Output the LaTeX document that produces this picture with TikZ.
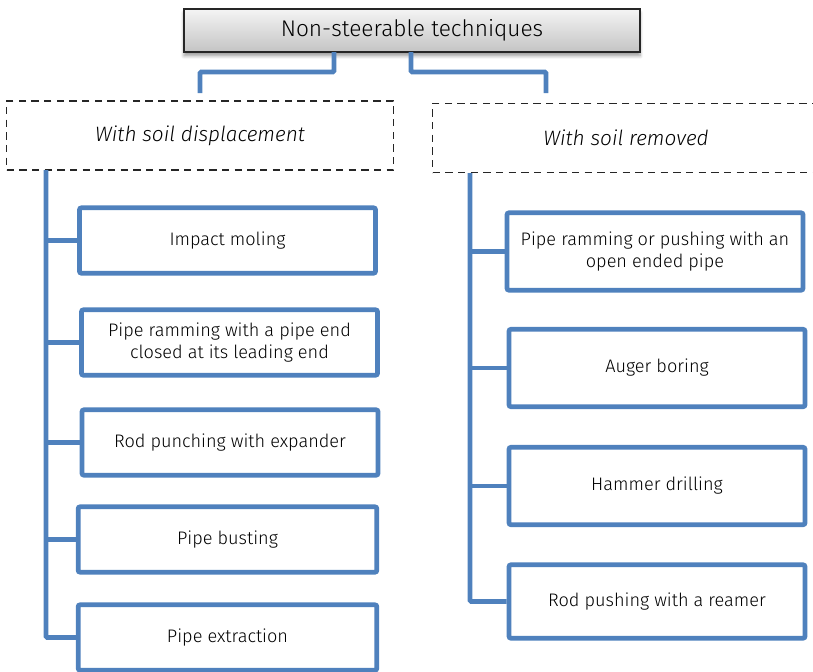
\documentclass[tikz,border=0pt]{standalone}
\usepackage{fontspec}
\setmainfont{Fira Sans}[UprightFont=* Light, ItalicFont=* Light Italic]
\usetikzlibrary{shadows.blur}
\definecolor{linkblue}{HTML}{4F81BD}
\definecolor{topA}{HTML}{F4F4F4}
\definecolor{topB}{HTML}{C4C4C4}
\tikzset{
  conn/.style={draw=linkblue, line width=3.6pt, rounded corners=1pt},
  techbox/.style={draw=linkblue, line width=3.6pt, fill=white, rounded corners=1.5pt,
    align=center, font=\fontsize{13.6}{16}\selectfont, text=black,
    minimum width=222pt, minimum height=49pt, inner sep=0pt},
  groupbox/.style={draw=black!85, dashed, line width=1.2pt, dash pattern=on 5.5pt off 4pt,
    minimum width=290pt, minimum height=52pt, font=\fontsize{15.6}{18}\selectfont\itshape},
  headbox/.style={draw=black!85, line width=1.2pt, top color=topA, bottom color=topB,
    minimum width=342pt, minimum height=32pt, font=\fontsize{17}{20}\selectfont,
    blur shadow={shadow xshift=0pt, shadow yshift=-3pt, shadow blur steps=6, shadow blur radius=2.5pt}}
}
\begin{document}
\begin{tikzpicture}[x=0.75pt, y=-0.75pt]
\useasboundingbox (0,0) rectangle (813,671);

% heading
\node[headbox] (top) at (412,30.5) {Non-steerable techniques};

% two groups
\node[groupbox] (gl) at (200,135.5) {With soil displacement};
\node[groupbox] (gr) at (626,138) {With soil removed};

% left column
\node[techbox] (l1) at (227.5,240.5) {Impact moling};
\node[techbox] (l2) at (229.5,342.5) {Pipe ramming with a pipe end\\closed at its leading end};
\node[techbox] (l3) at (230,442.5) {Rod punching with expander};
\node[techbox, minimum width=224pt] (l4) at (227.5,539.5) {Pipe busting};
\node[techbox, minimum width=224pt] (l5) at (227.5,637.5) {Pipe extraction};

% right column
\node[techbox, minimum height=58pt] (r1) at (655,251.5) {Pipe ramming or pushing with an\\open ended pipe};
\node[techbox, minimum height=58pt] (r2) at (657,368) {Auger boring};
\node[techbox, minimum height=58pt] (r3) at (657,486) {Hammer drilling};
\node[techbox, minimum height=55pt] (r4) at (657,601.5) {Rod pushing with a reamer};

% heading to groups
\coordinate (tl) at (334,52);
\coordinate (tr) at (411,52);
\coordinate (gla) at (200,93);
\coordinate (gra) at (546,93);
\draw[conn] (tl) -- (334,72) -- (200,72) -- (gla);
\draw[conn] (tr) -- (411,72) -- (546,72) -- (gra);

% left spine
\coordinate (ls) at (46,170);
\draw[conn] (ls) |- (l5.west);
\foreach \b in {l1,l2,l3,l4} \draw[conn] (\b.west) -- (\b.west -| ls);

% right spine
\coordinate (rs) at (470,173);
\draw[conn] (rs) |- (r4.west);
\foreach \b in {r1,r2,r3} \draw[conn] (\b.west) -- (\b.west -| rs);
\end{tikzpicture}
\end{document}
